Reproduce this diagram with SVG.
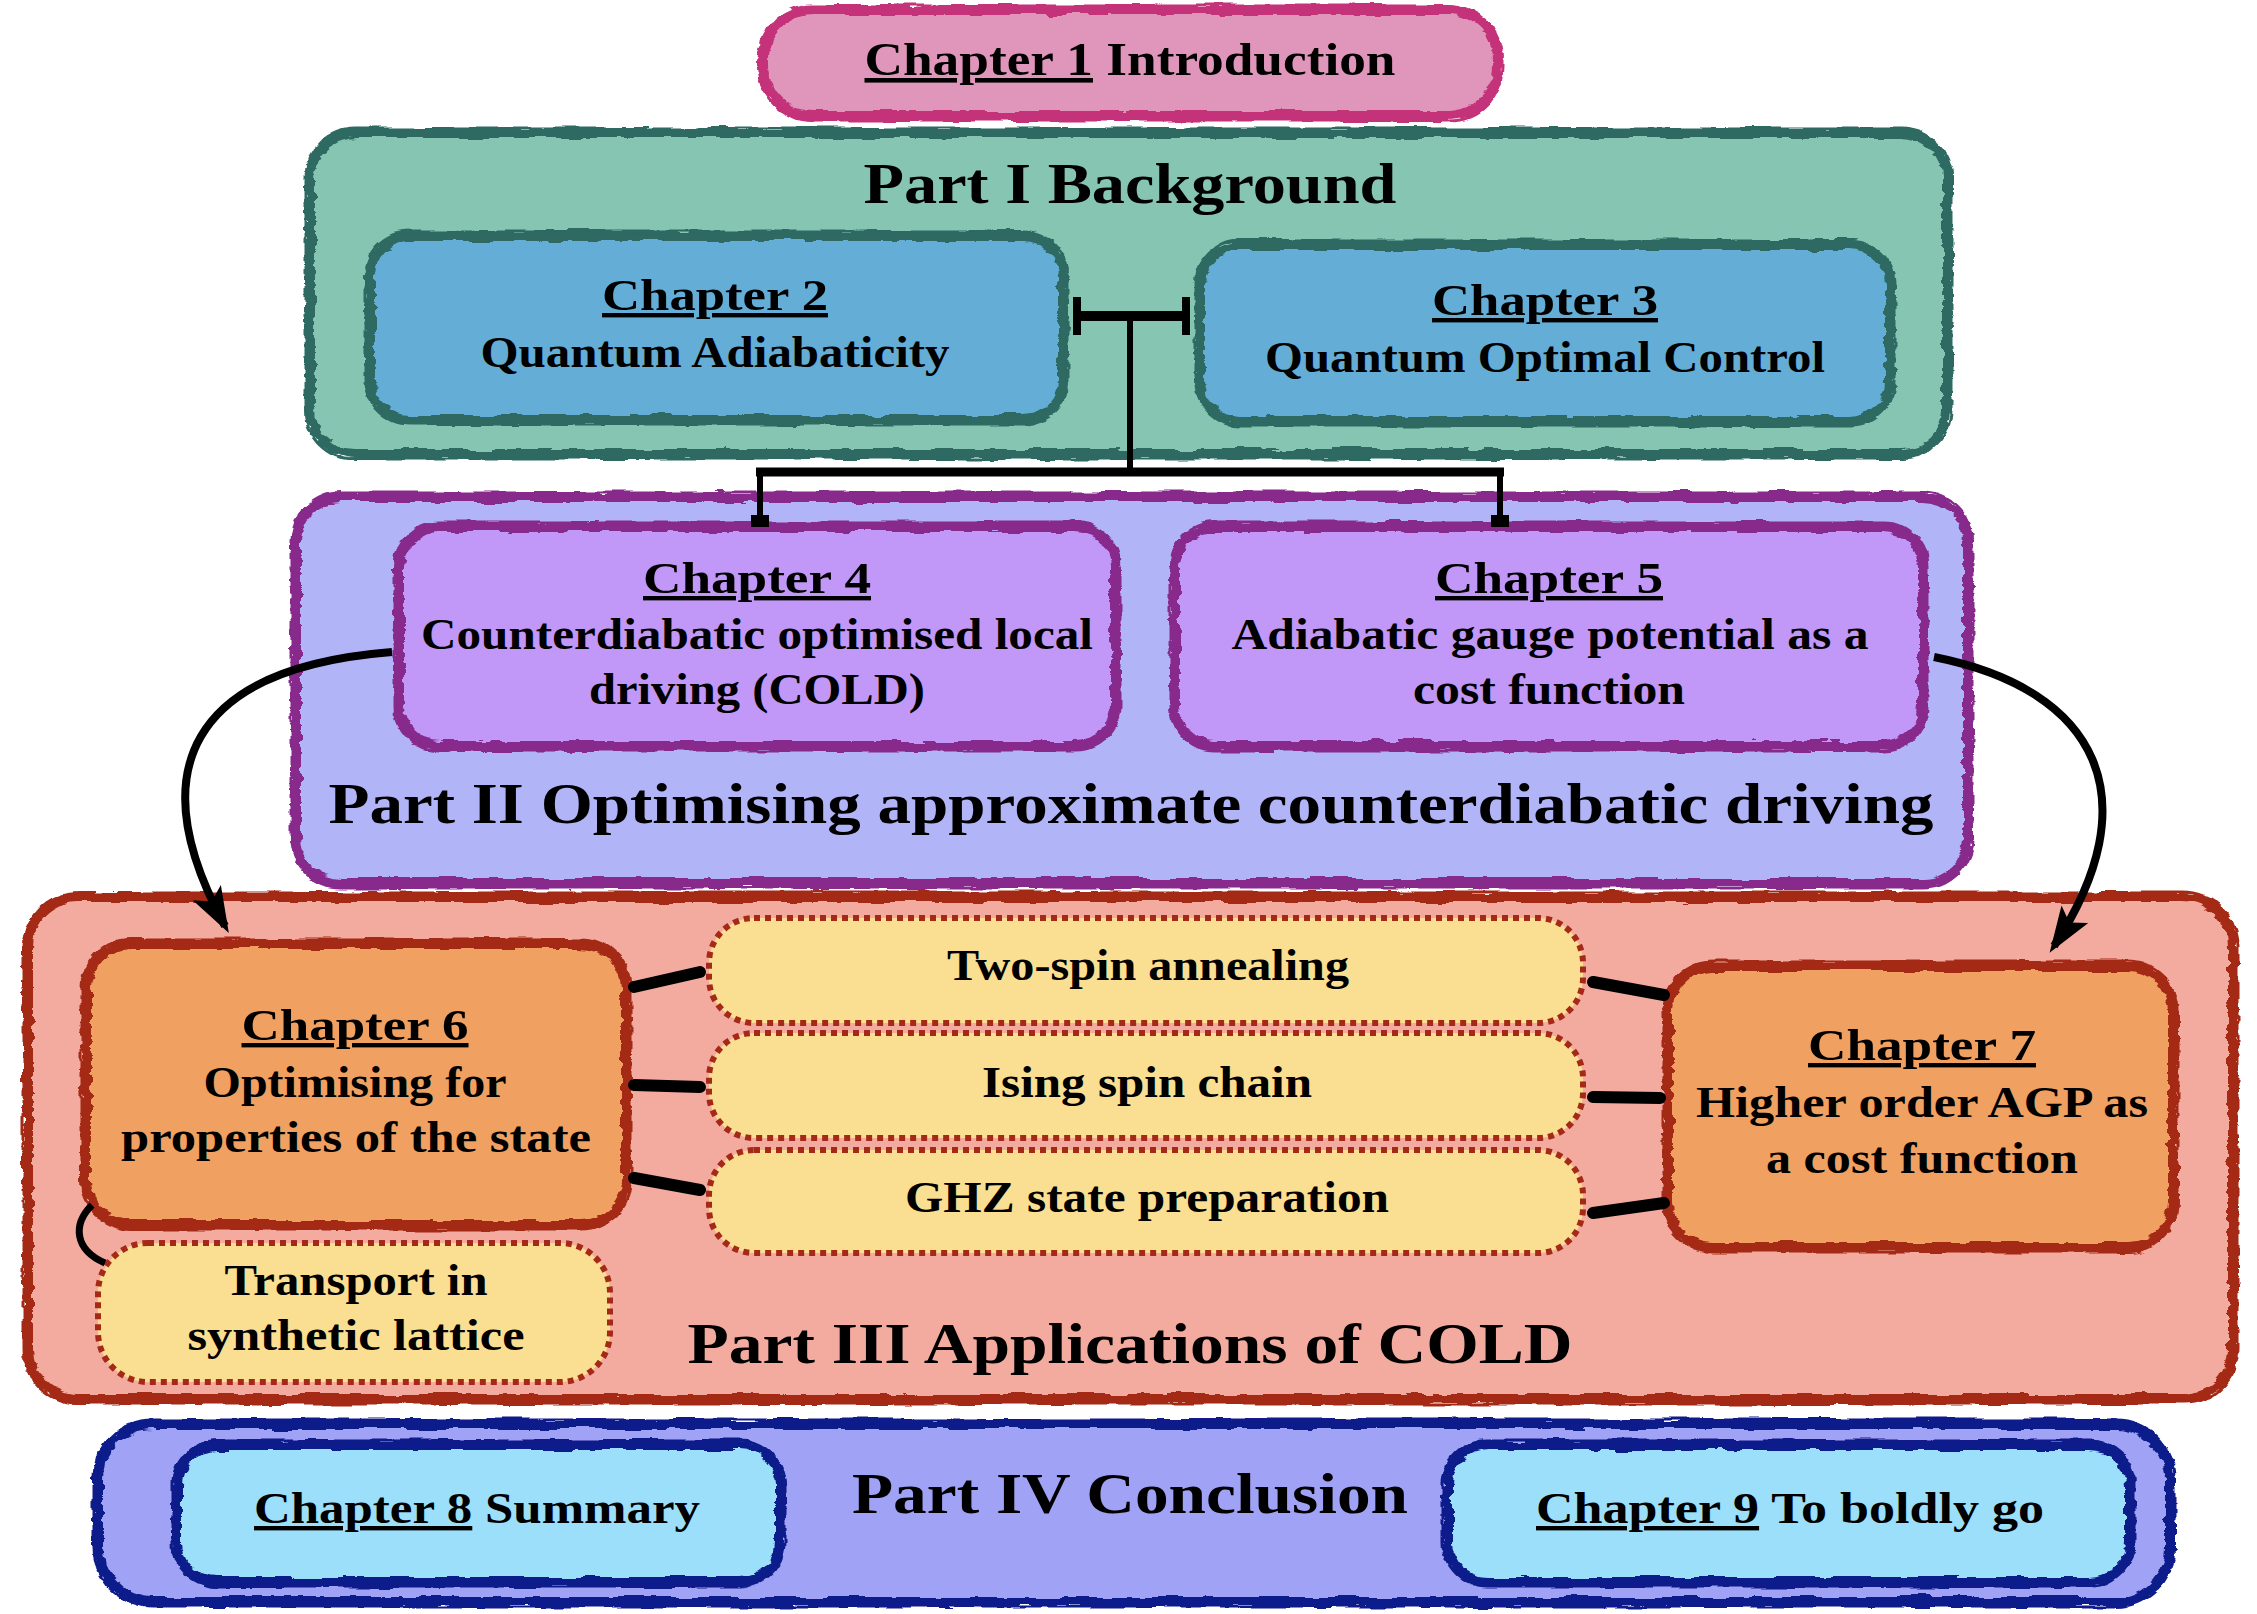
<svg xmlns="http://www.w3.org/2000/svg" width="2257" height="1614" viewBox="0 0 2257 1614">
<defs>
<filter id="rough" x="-3%" y="-10%" width="106%" height="120%">
<feTurbulence type="fractalNoise" baseFrequency="0.03 0.12" numOctaves="3" seed="4" result="n"/>
<feDisplacementMap in="SourceGraphic" in2="n" scale="9" xChannelSelector="R" yChannelSelector="G"/>
</filter>
<filter id="rough2" x="-3%" y="-10%" width="106%" height="120%">
<feTurbulence type="fractalNoise" baseFrequency="0.02 0.08" numOctaves="2" seed="9" result="n"/>
<feDisplacementMap in="SourceGraphic" in2="n" scale="7" xChannelSelector="G" yChannelSelector="R"/>
</filter>
<marker id="stealth" viewBox="0 0 46 34" refX="38" refY="17" markerWidth="46" markerHeight="34" markerUnits="userSpaceOnUse" orient="auto">
<path d="M0,1 L46,17 L0,33 L10,17 z" fill="#000"/>
</marker>
</defs>
<style>
.t { font-family: "Liberation Serif", "DejaVu Serif", serif; font-weight: bold; fill: #000; text-anchor: middle; }
.ch { font-size: 44px; }
.title { font-size: 56px; }
.u { text-decoration: underline; }
.border { fill: none; stroke-width: 10; filter: url(#rough); }
.thin { fill: none; stroke-width: 3; filter: url(#rough2); }
.dot { fill: #FADE92; stroke: #A42A17; stroke-width: 6; stroke-dasharray: 6 5; }
.conn { stroke: #000; fill: none; }
.brush { stroke: #000; fill: none; stroke-width: 12; stroke-linecap: round; }
</style>
<rect x="0" y="0" width="2257" height="1614" fill="#ffffff"/>

<g id="chapter1">
<rect x="763" y="10" width="735" height="106" rx="50" fill="#E096BA"/>
<rect x="763" y="10" width="735" height="106" rx="50" class="border" stroke="#C4317A"/>
<rect x="759" y="6" width="743" height="114" rx="54" class="thin" stroke="#C4317A"/>
<text class="t" x="1130" y="75" font-size="46" textLength="531" lengthAdjust="spacingAndGlyphs"><tspan class="u">Chapter 1</tspan> Introduction</text>
</g>

<g id="part1">
<rect x="310" y="133" width="1637" height="321" rx="45" fill="#87C5B3"/>
<rect x="310" y="133" width="1637" height="321" rx="45" class="border" stroke="#2D6B62"/>
<rect x="306" y="129" width="1645" height="329" rx="49" class="thin" stroke="#2D6B62"/>
<text class="t title" x="1130" y="203" textLength="533" lengthAdjust="spacingAndGlyphs">Part I Background</text>
</g>

<g id="chapter2">
<rect x="370" y="236" width="693" height="184" rx="40" fill="#63ADD6"/>
<rect x="370" y="236" width="693" height="184" rx="40" class="border" stroke="#2D6B62"/>
<rect x="366" y="232" width="701" height="192" rx="44" class="thin" stroke="#2D6B62"/>
<text class="t ch" x="715" y="310" textLength="226" lengthAdjust="spacingAndGlyphs"><tspan class="u">Chapter 2</tspan></text>
<text class="t ch" x="715" y="367" textLength="469" lengthAdjust="spacingAndGlyphs">Quantum Adiabaticity</text>
</g>

<g id="chapter3">
<rect x="1200" y="245" width="690" height="176" rx="40" fill="#63ADD6"/>
<rect x="1200" y="245" width="690" height="176" rx="40" class="border" stroke="#2D6B62"/>
<rect x="1196" y="241" width="698" height="184" rx="44" class="thin" stroke="#2D6B62"/>
<text class="t ch" x="1545" y="315" textLength="226" lengthAdjust="spacingAndGlyphs"><tspan class="u">Chapter 3</tspan></text>
<text class="t ch" x="1545" y="372" textLength="560" lengthAdjust="spacingAndGlyphs">Quantum Optimal Control</text>
</g>

<g id="part2">
<rect x="296" y="497" width="1672" height="386" rx="45" fill="#B1B4F7"/>
<rect x="296" y="497" width="1672" height="386" rx="45" class="border" stroke="#87298B"/>
<rect x="292" y="493" width="1680" height="394" rx="49" class="thin" stroke="#87298B"/>
<text class="t title" x="1131" y="823" textLength="1605" lengthAdjust="spacingAndGlyphs">Part II Optimising approximate counterdiabatic driving</text>
</g>

<g id="chapter4">
<rect x="399" y="527" width="716" height="219" rx="40" fill="#C198F7"/>
<rect x="399" y="527" width="716" height="219" rx="40" class="border" stroke="#87298B"/>
<rect x="395" y="523" width="724" height="227" rx="44" class="thin" stroke="#87298B"/>
<text class="t ch" x="757" y="593" textLength="228" lengthAdjust="spacingAndGlyphs"><tspan class="u">Chapter 4</tspan></text>
<text class="t ch" x="757" y="649" textLength="672" lengthAdjust="spacingAndGlyphs">Counterdiabatic optimised local</text>
<text class="t ch" x="757" y="704" textLength="336" lengthAdjust="spacingAndGlyphs">driving (COLD)</text>
</g>

<g id="chapter5">
<rect x="1175" y="527" width="748" height="219" rx="40" fill="#C198F7"/>
<rect x="1175" y="527" width="748" height="219" rx="40" class="border" stroke="#87298B"/>
<rect x="1171" y="523" width="756" height="227" rx="44" class="thin" stroke="#87298B"/>
<text class="t ch" x="1549" y="593" textLength="228" lengthAdjust="spacingAndGlyphs"><tspan class="u">Chapter 5</tspan></text>
<text class="t ch" x="1550" y="649" textLength="637" lengthAdjust="spacingAndGlyphs">Adiabatic gauge potential as a</text>
<text class="t ch" x="1549" y="704" textLength="272" lengthAdjust="spacingAndGlyphs">cost function</text>
</g>

<g id="part3">
<rect x="28" y="897" width="2205" height="502" rx="50" fill="#F3ABA0"/>
<rect x="28" y="897" width="2205" height="502" rx="50" class="border" stroke="#A42A17"/>
<rect x="24" y="893" width="2213" height="510" rx="54" class="thin" stroke="#A42A17"/>
<text class="t title" x="1130" y="1363" textLength="885" lengthAdjust="spacingAndGlyphs">Part III Applications of COLD</text>
</g>

<g id="chapter6">
<rect x="86" y="944" width="540" height="281" rx="45" fill="#F0A161"/>
<rect x="86" y="944" width="540" height="281" rx="45" class="border" stroke="#A42A17"/>
<rect x="82" y="940" width="548" height="289" rx="49" class="thin" stroke="#A42A17"/>
<text class="t ch" x="355" y="1040" textLength="227" lengthAdjust="spacingAndGlyphs"><tspan class="u">Chapter 6</tspan></text>
<text class="t ch" x="355" y="1097" textLength="303" lengthAdjust="spacingAndGlyphs">Optimising for</text>
<text class="t ch" x="356" y="1152" textLength="470" lengthAdjust="spacingAndGlyphs">properties of the state</text>
</g>

<g id="chapter7">
<rect x="1668" y="966" width="505" height="281" rx="45" fill="#F0A161"/>
<rect x="1668" y="966" width="505" height="281" rx="45" class="border" stroke="#A42A17"/>
<rect x="1664" y="962" width="513" height="289" rx="49" class="thin" stroke="#A42A17"/>
<text class="t ch" x="1922" y="1060" textLength="228" lengthAdjust="spacingAndGlyphs"><tspan class="u">Chapter 7</tspan></text>
<text class="t ch" x="1922" y="1117" textLength="452" lengthAdjust="spacingAndGlyphs">Higher order AGP as</text>
<text class="t ch" x="1922" y="1173" textLength="312" lengthAdjust="spacingAndGlyphs">a cost function</text>
</g>

<g id="two-spin">
<rect x="709" y="918" width="874" height="105" rx="45" class="dot"/>
<text class="t ch" x="1148" y="980" textLength="402" lengthAdjust="spacingAndGlyphs">Two-spin annealing</text>
</g>

<g id="ising">
<rect x="709" y="1033" width="874" height="105" rx="45" class="dot"/>
<text class="t ch" x="1147" y="1097" textLength="330" lengthAdjust="spacingAndGlyphs">Ising spin chain</text>
</g>

<g id="ghz">
<rect x="709" y="1150" width="874" height="103" rx="45" class="dot"/>
<text class="t ch" x="1147" y="1212" textLength="484" lengthAdjust="spacingAndGlyphs">GHZ state preparation</text>
</g>

<g id="transport">
<rect x="98" y="1243" width="512" height="139" rx="50" class="dot"/>
<text class="t ch" x="356" y="1295" textLength="263" lengthAdjust="spacingAndGlyphs">Transport in</text>
<text class="t ch" x="356" y="1350" textLength="337" lengthAdjust="spacingAndGlyphs">synthetic lattice</text>
</g>

<g id="part4">
<rect x="98" y="1424" width="2072" height="178" rx="55" fill="#9FA2F5"/>
<rect x="98" y="1424" width="2072" height="178" rx="55" class="border" stroke="#0F1D8B"/>
<rect x="94" y="1420" width="2080" height="186" rx="59" class="thin" stroke="#0F1D8B"/>
<text class="t title" x="1130" y="1513" textLength="556" lengthAdjust="spacingAndGlyphs">Part IV Conclusion</text>
</g>

<g id="chapter8">
<rect x="177" y="1445" width="603" height="137" rx="40" fill="#9BDFFB"/>
<rect x="177" y="1445" width="603" height="137" rx="40" class="border" stroke="#0F1D8B"/>
<rect x="173" y="1441" width="611" height="145" rx="44" class="thin" stroke="#0F1D8B"/>
<text class="t ch" x="477" y="1523" textLength="446" lengthAdjust="spacingAndGlyphs"><tspan class="u">Chapter 8</tspan> Summary</text>
</g>

<g id="chapter9">
<rect x="1447" y="1445" width="683" height="137" rx="40" fill="#9BDFFB"/>
<rect x="1447" y="1445" width="683" height="137" rx="40" class="border" stroke="#0F1D8B"/>
<rect x="1443" y="1441" width="691" height="145" rx="44" class="thin" stroke="#0F1D8B"/>
<text class="t ch" x="1790" y="1523" textLength="508" lengthAdjust="spacingAndGlyphs"><tspan class="u">Chapter 9</tspan> To boldly go</text>
</g>

<g id="connectors">
<line class="conn" x1="1077" y1="316" x2="1186" y2="316" stroke-width="10"/>
<line class="conn" x1="1077" y1="297" x2="1077" y2="335" stroke-width="8"/>
<line class="conn" x1="1186" y1="297" x2="1186" y2="335" stroke-width="8"/>
<line class="conn" x1="1130" y1="316" x2="1130" y2="472" stroke-width="6"/>
<line class="conn" x1="756" y1="472" x2="1504" y2="472" stroke-width="9"/>
<line class="conn" x1="760" y1="472" x2="760" y2="520" stroke-width="6"/>
<line class="conn" x1="1500" y1="472" x2="1500" y2="520" stroke-width="6"/>
<rect x="751" y="515" width="18" height="12" fill="#000"/>
<rect x="1491" y="515" width="18" height="12" fill="#000"/>
<path class="conn" d="M392,652 C 190,668 140,770 225,926" stroke-width="8" marker-end="url(#stealth)"/>
<path class="conn" d="M1934,657 C 2100,690 2150,800 2054,946" stroke-width="8" marker-end="url(#stealth)"/>
<path class="brush" d="M634,987 L700,972"/>
<path class="brush" d="M634,1085 L700,1087"/>
<path class="brush" d="M634,1178 L700,1190"/>
<path class="brush" d="M1593,982 L1664,995"/>
<path class="brush" d="M1593,1097 L1660,1098"/>
<path class="brush" d="M1593,1213 L1664,1203"/>
<path class="conn" d="M92,1205 C 72,1225 75,1250 105,1263" stroke-width="7"/>
</g>
</svg>
